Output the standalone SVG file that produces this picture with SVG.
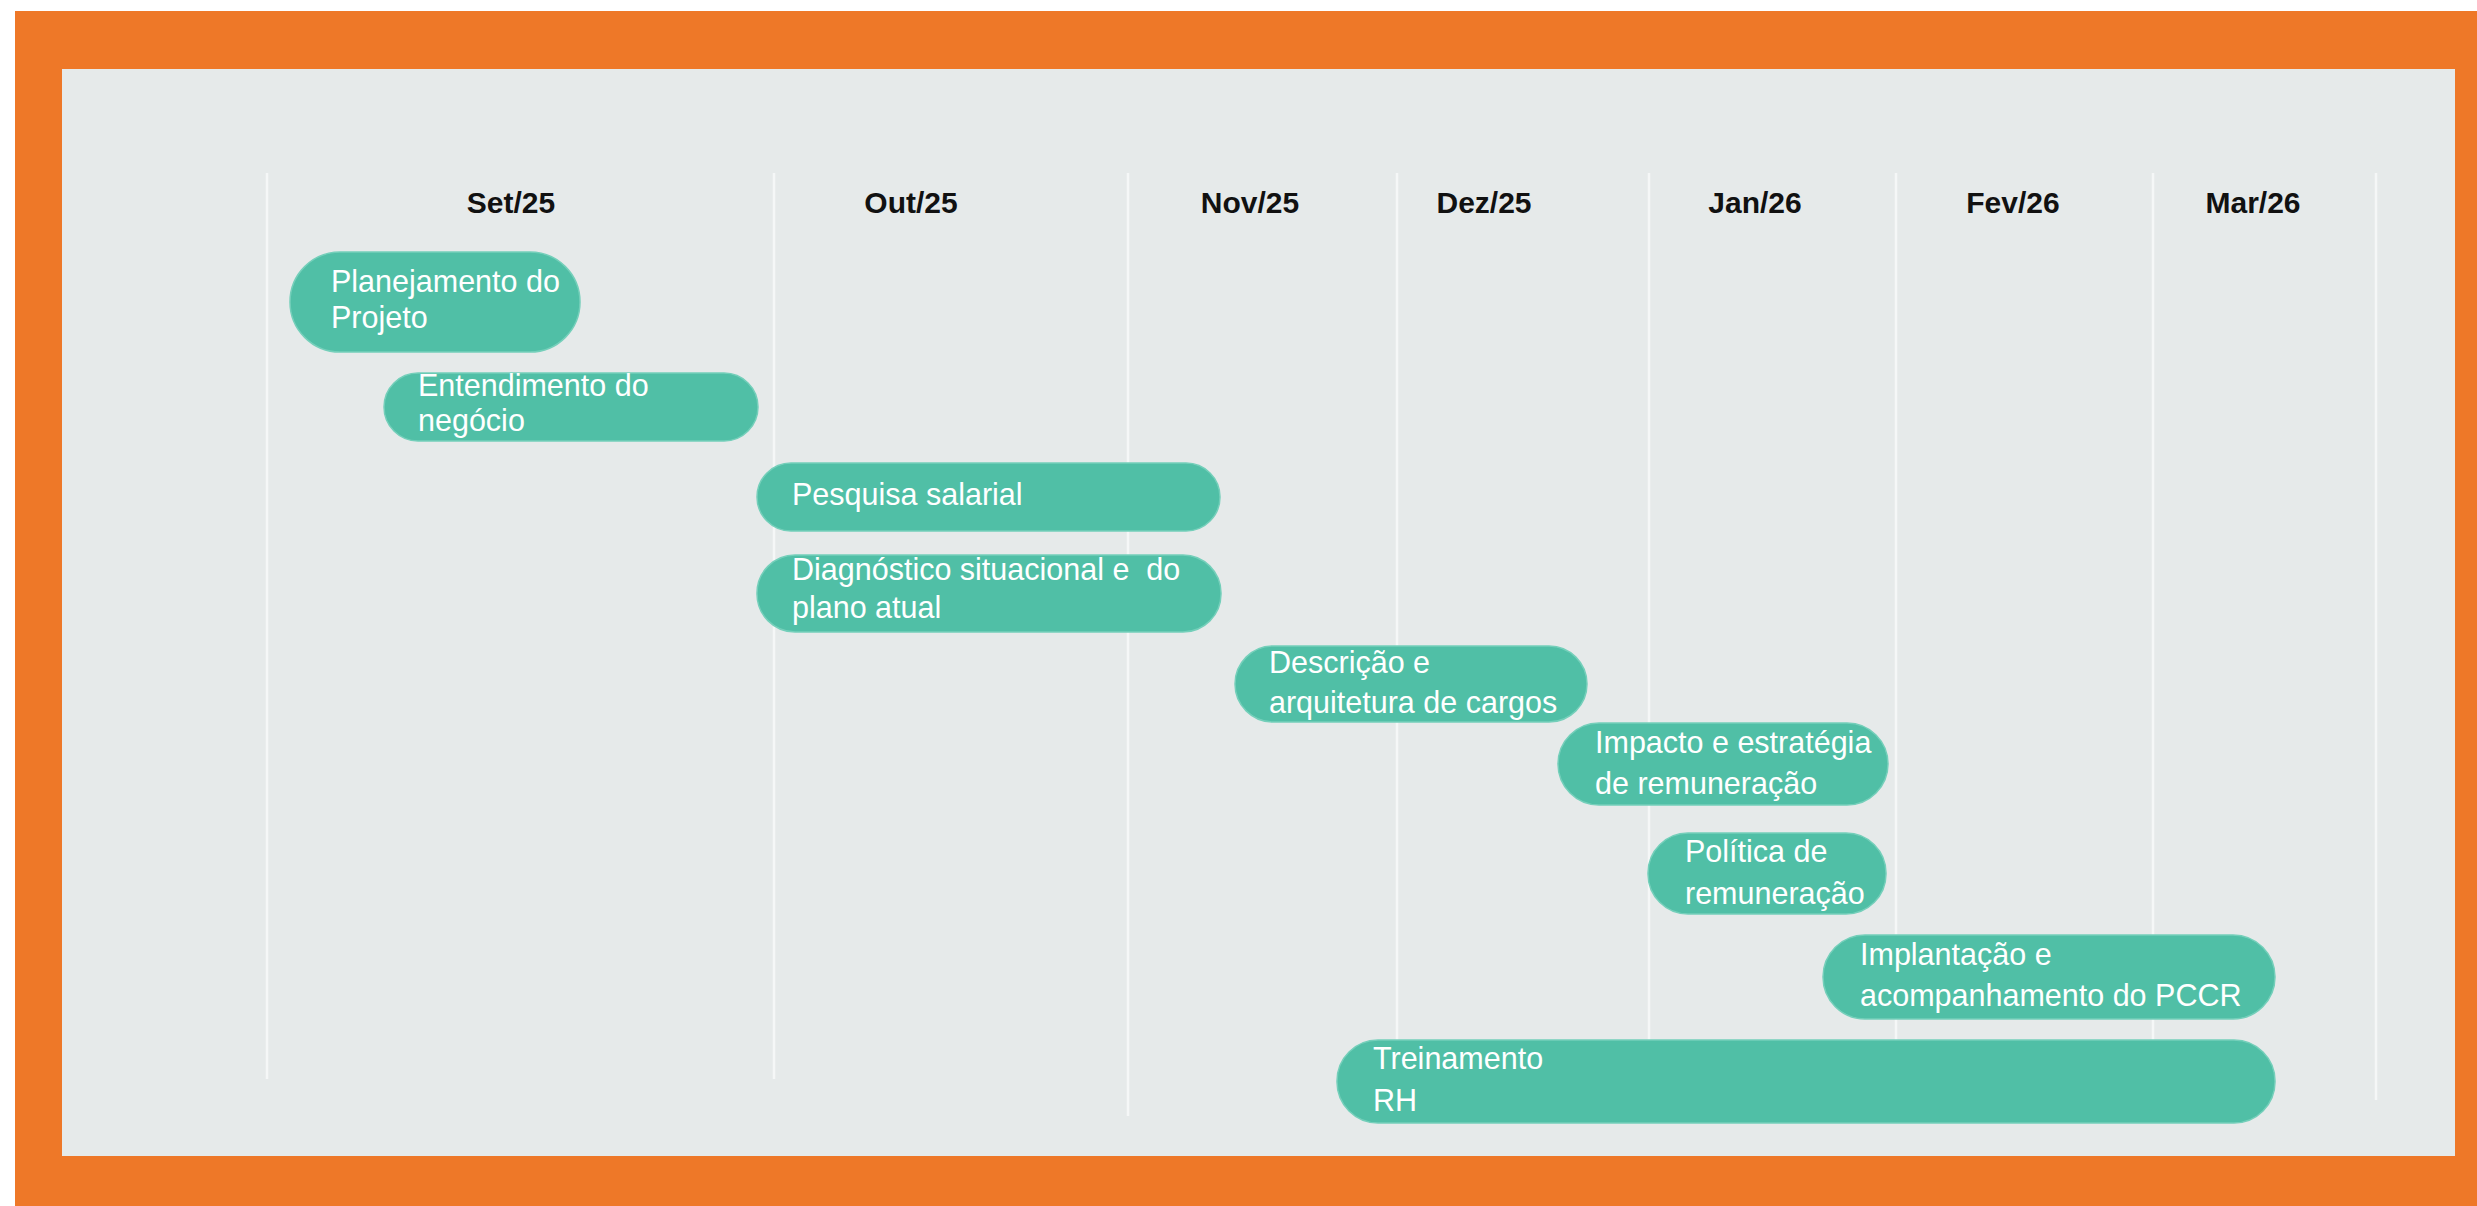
<svg xmlns="http://www.w3.org/2000/svg" width="2477" height="1206" viewBox="0 0 2477 1206">
<style>
.grid line{stroke:#F5F7F7;stroke-width:2.5}
.month{font-family:"Liberation Sans",Arial,sans-serif;font-weight:bold;font-size:30px;fill:#111;text-anchor:middle}
.bar{fill:#50BFA6;stroke:#74CFBA;stroke-width:1.5}
.lbl{font-family:"Liberation Sans",Arial,sans-serif;font-size:30.5px;fill:#FFFFFF;white-space:pre}
</style>
<rect x="0" y="0" width="2477" height="1206" fill="#FFFFFF"/>
<rect x="15" y="11" width="2462" height="1195" fill="#EE7828"/>
<rect x="62" y="69" width="2393" height="1087" fill="#E6EAEA"/>
<g id="grid" class="grid">
<line x1="267" y1="173" x2="267" y2="1079"/>
<line x1="774" y1="173" x2="774" y2="1079"/>
<line x1="1128" y1="173" x2="1128" y2="1116"/>
<line x1="1397" y1="173" x2="1397" y2="1116"/>
<line x1="1649" y1="173" x2="1649" y2="1100"/>
<line x1="1896" y1="173" x2="1896" y2="1100"/>
<line x1="2153" y1="173" x2="2153" y2="1100"/>
<line x1="2376" y1="173" x2="2376" y2="1100"/>
</g>
<g id="months">
<text class="month" x="511" y="213">Set/25</text>
<text class="month" x="911" y="213">Out/25</text>
<text class="month" x="1250" y="213">Nov/25</text>
<text class="month" x="1484" y="213">Dez/25</text>
<text class="month" x="1755" y="213">Jan/26</text>
<text class="month" x="2013" y="213">Fev/26</text>
<text class="month" x="2253" y="213">Mar/26</text>
</g>
<g id="connectors"></g>
<g id="planejamento">
<rect class="bar" x="290" y="252" width="290" height="100" rx="50"/>
<text class="lbl" x="331" y="292">Planejamento do</text>
<text class="lbl" x="331" y="328">Projeto</text>
</g>
<g id="entendimento">
<rect class="bar" x="384" y="373" width="374" height="68" rx="34"/>
<text class="lbl" x="418" y="396">Entendimento do</text>
<text class="lbl" x="418" y="431">negócio</text>
</g>
<g id="pesquisa">
<rect class="bar" x="757" y="463" width="463" height="68" rx="34"/>
<text class="lbl" x="792" y="505">Pesquisa salarial</text>
</g>
<g id="diagnostico">
<rect class="bar" x="757" y="555" width="464" height="77" rx="38"/>
<text class="lbl" x="792" y="580">Diagnóstico situacional e  do</text>
<text class="lbl" x="792" y="618">plano atual</text>
</g>
<g id="descricao">
<rect class="bar" x="1235" y="646" width="352" height="76" rx="38"/>
<text class="lbl" x="1269" y="673">Descrição e</text>
<text class="lbl" x="1269" y="713">arquitetura de cargos</text>
</g>
<g id="impacto">
<rect class="bar" x="1558" y="723" width="330" height="82" rx="41"/>
<text class="lbl" x="1595" y="753">Impacto e estratégia</text>
<text class="lbl" x="1595" y="794">de remuneração</text>
</g>
<g id="politica">
<rect class="bar" x="1648" y="833" width="238" height="81" rx="40"/>
<text class="lbl" x="1685" y="862">Política de</text>
<text class="lbl" x="1685" y="904">remuneração</text>
</g>
<g id="implantacao">
<rect class="bar" x="1823" y="935" width="452" height="84" rx="42"/>
<text class="lbl" x="1860" y="965">Implantação e</text>
<text class="lbl" x="1860" y="1006">acompanhamento do PCCR</text>
</g>
<g id="treinamento">
<rect class="bar" x="1337" y="1040" width="938" height="83" rx="41"/>
<text class="lbl" x="1373" y="1069">Treinamento</text>
<text class="lbl" x="1373" y="1111">RH</text>
</g>
</svg>
